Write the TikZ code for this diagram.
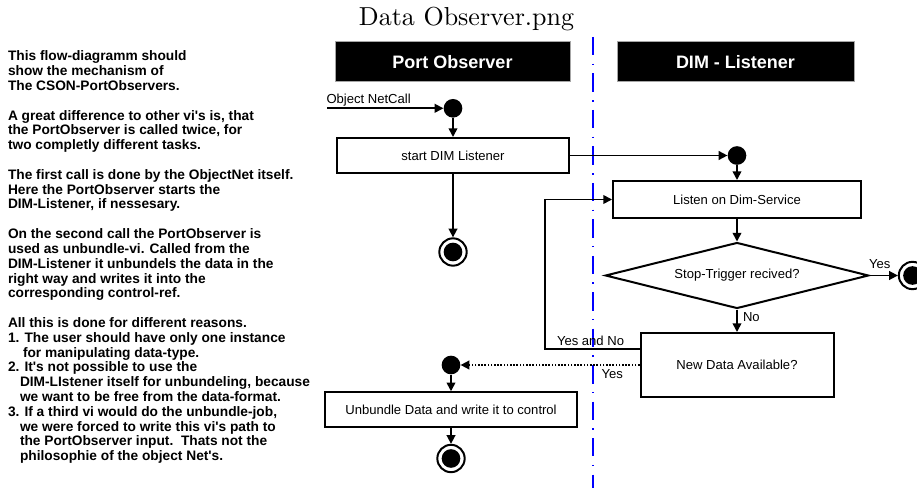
\documentclass[tikz,border=0pt]{standalone}
\usepackage{fontspec}
\setsansfont{Liberation Sans}[Ligatures=TeXOff]
\newfontfamily\titlefont{lmroman10-regular.otf}
\usetikzlibrary{arrows.meta,shapes.geometric}
\begin{document}
\begin{tikzpicture}[x=0.75pt,y=-0.75pt,
  lbl/.style={inner sep=0pt,outer sep=0pt,font=\sffamily\fontsize{9.8}{11}\selectfont},
  note/.style={inner sep=0pt,outer sep=0pt,anchor=base west,font=\sffamily\bfseries\fontsize{10.3}{11}\selectfont},
  hdr/.style={fill=black,draw=gray!70,line width=0.75pt,minimum height=30pt,inner sep=0pt,text=white,font=\sffamily\bfseries\fontsize{13.5}{16}\selectfont},
  stepbox/.style={draw,line width=1.5pt,inner sep=0pt,font=\sffamily\fontsize{9.8}{11}\selectfont},
  startdot/.style={circle,fill=black,inner sep=0pt,minimum size=14pt},
  enddot/.style={circle,draw,line width=1.5pt,inner sep=0pt,minimum size=20.5pt,
    path picture={\fill[black] (path picture bounding box.center) circle[radius=7pt];}},
  arr/.style={line width=1.25pt,-{Triangle[length=6.5pt,width=6.5pt]}},
  dotarr/.style={arr,dash pattern=on 1.2pt off 1.2pt},
  swim/.style={blue,line width=1.5pt,dash pattern=on 13.75pt off 6.25pt on 1.1pt off 6.25pt}
]
\useasboundingbox[fill=white] (0,0) rectangle (917,488);

% title
\node[inner sep=0pt,anchor=base,font=\titlefont\fontsize{19.5}{23}\selectfont] (title) at (466.5,26) {Data Observer.png};

% swimlane separator
\coordinate (laneTop) at (593,37);
\coordinate (laneBot) at (593,488);
\draw[swim] (laneTop) -- (laneBot);

% left explanatory text
\node[note] (t0)  at (8,61.0)  {This flow-diagramm should};
\node[note] (t1)  at (8,75.8)  {show the mechanism of};
\node[note] (t2)  at (8,90.6)  {The CSON-PortObservers.};
\node[note] (t4)  at (8,120.2) {A great difference to other vi's is, that};
\node[note] (t5)  at (8,135.0) {the PortObserver is called twice, for};
\node[note] (t6)  at (8,149.8) {two completly different tasks.};
\node[note] (t8)  at (8,179.4) {The first call is done by the ObjectNet itself.};
\node[note] (t9)  at (8,194.2) {Here the PortObserver starts the};
\node[note] (t10) at (8,209.0) {DIM-Listener, if nessesary.};
\node[note] (t12) at (8,238.6) {On the second call the PortObserver is};
\node[note] (t13) at (8,253.4) {used as unbundle-vi. Called from the};
\node[note] (t14) at (8,268.2) {DIM-Listener it unbundels the data in the};
\node[note] (t15) at (8,283.0) {right way and writes it into the};
\node[note] (t16) at (8,297.8) {corresponding control-ref.};
\node[note] (t18) at (8,327.4) {All this is done for different reasons.};
\node[note] (t19) at (8,342.2) {1. The user should have only one instance};
\node[note] (t20) at (23,357.0) {for manipulating data-type.};
\node[note] (t21) at (8,371.8) {2. It's not possible to use the};
\node[note] (t22) at (20,386.6) {DIM-LIstener itself for unbundeling, because};
\node[note] (t23) at (20,401.4) {we want to be free from the data-format.};
\node[note] (t24) at (8,416.2) {3. If a third vi would do the unbundle-job,};
\node[note] (t25) at (20,431.0) {we were forced to write this vi's path to};
\node[note] (t26) at (20,445.8) {the PortObserver input.\ \ Thats not the};
\node[note] (t27) at (20,460.6) {philosophie of the object Net's.};

% headers
\node[hdr,minimum width=176.25pt] (hPO) at (452.5,62) {Port Observer};
\node[hdr,minimum width=177.75pt] (hDL) at (735.5,62) {DIM - Listener};

% Port Observer lane
\coordinate (onc) at (327,108.3);
\node[lbl,anchor=base west] (oncl) at (326.5,104) {Object NetCall};
\node[startdot] (c1) at (453,108.3) {};
\node[stepbox,minimum width=174pt,minimum height=26.25pt] (start) at (453,155.5) {start DIM Listener};
\node[enddot] (end1) at (453,252) {};
\node[startdot] (c3) at (451,365) {};
\node[stepbox,minimum width=189pt,minimum height=26.25pt] (unb) at (451,409.75) {Unbundle Data and write it to control};
\node[enddot] (end2) at (451,458.5) {};

% DIM Listener lane
\node[startdot] (c2) at (737,155.5) {};
\node[stepbox,minimum width=186pt,minimum height=27.75pt] (listen) at (737,199.5) {Listen on Dim-Service};
\node[diamond,draw,line width=1.5pt,aspect=4,inner sep=0pt,minimum width=197.5pt,minimum height=49.5pt,
      font=\sffamily\fontsize{9.8}{11}\selectfont] (stop) at (737,275.5) {Stop-Trigger recived?};
\node[stepbox,minimum width=144.75pt,minimum height=48pt] (newd) at (737,365) {New Data Available?};
\node[enddot] (end3) at (912.5,275.5) {};
\coordinate (lp) at (545,349);

% connectors
\draw[arr] (onc) -- (c1.west);
\draw[arr] (c1.south) -- (start.north);
\draw[arr] (start.south) -- (end1.north);
\draw[arr] (start.east) -- (c2.west);
\draw[arr] (c2.south) -- (listen.north);
\draw[arr] (listen.south) -- (stop.north);
\draw[arr] (stop.east) -- (end3.west);
\draw[arr] (stop.south) -- (newd.north);
\draw[arr] (newd.west |- lp) -- (lp) |- (listen.west);
\draw[dotarr] (newd.west) -- (c3.east);
\draw[arr] (c3.south) -- (unb.north);
\draw[arr] (unb.south) -- (end2.north);

% connector labels
\node[lbl,anchor=west] (lYes1) at (869,264) {Yes};
\node[lbl,anchor=west] (lNo) at (743,317) {No};
\node[lbl,anchor=base west] (lYN) at (557,345.5) {Yes and No};
\node[lbl,anchor=north west] (lYes2) at (601.5,370) {Yes};
\end{tikzpicture}
\end{document}
